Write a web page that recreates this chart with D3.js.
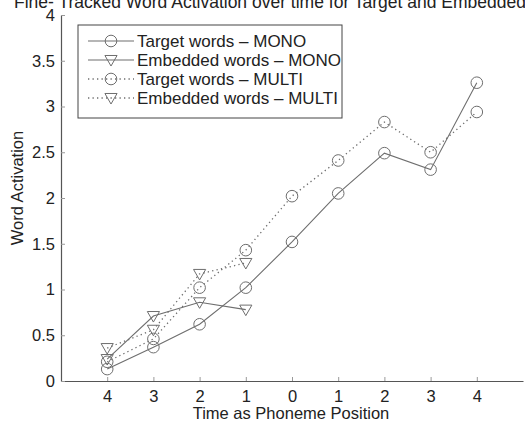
<!DOCTYPE html>
<html>
<head>
<meta charset="utf-8">
<script src="https://cdn.jsdelivr.net/npm/d3@7"></script>
<style>
body { margin: 0; background: #fff; }
svg { font-family: "Liberation Sans", Arial, sans-serif; }
</style>
</head>
<body>
<svg id="chart"></svg>
<script>
// phoneme positions, drawn at slots 1..9
var positions = [1, 2, 3, 4, 5, 6, 7, 8, 9];
var posLabels = ["4", "3", "2", "1", "0", "1", "2", "3", "4"];
var yTicks = [0, 0.5, 1, 1.5, 2, 2.5, 3, 3.5, 4];

// series values
var targetMono = [0.13, 0.37, 0.62, 1.02, 1.52, 2.05, 2.49, 2.31, 3.26];
var embeddedMono = [0.24, 0.71, 0.86, 0.78];
var targetMulti = [0.21, 0.46, 1.02, 1.43, 2.02, 2.41, 2.83, 2.50, 2.94];
var embeddedMulti = [0.36, 0.56, 1.17, 1.29];

var seriesNames = ["Target words \u2013 MONO", "Embedded words \u2013 MONO", "Target words \u2013 MULTI", "Embedded words \u2013 MULTI"];

var W = 525, H = 421;
var margin = { top: 15, right: 2, bottom: 40, left: 61 };
var width = W - margin.left - margin.right;
var height = H - margin.top - margin.bottom;
var fs = 16.5;

var svg = d3.select("#chart").attr("width", W).attr("height", H);

var xscale = d3.scaleLinear().domain([0, 10]).range([0, width]);
var yscale = d3.scaleLinear().domain([0, 4]).range([height, 0]);

var ink = "#555";

// title, clipped at the top like the original
svg.append("text")
	.attr("x", 14)
	.attr("y", 8)
	.attr("font-size", 17.5)
	.attr("fill", "#222")
	.text("Fine- Tracked Word Activation over time for Target and Embedded");

var graph = svg.append("g")
	.attr("transform", "translate(" + margin.left + "," + margin.top + ")");

// axes, ticks point inward
var xaxis = d3.axisBottom(xscale).tickValues(positions)
	.tickFormat(function(d, i) { return posLabels[i]; })
	.tickSizeInner(-4).tickSizeOuter(0).tickPadding(9);
var yaxis = d3.axisLeft(yscale).tickValues(yTicks)
	.tickFormat(d3.format("~g"))
	.tickSizeInner(-4).tickSizeOuter(0).tickPadding(6);

var gx = graph.append("g")
	.attr("transform", "translate(0," + height + ")")
	.call(xaxis);
var gy = graph.append("g").call(yaxis);

[gx, gy].forEach(function(g) {
	g.select(".domain").attr("stroke", ink).attr("stroke-width", 1.2);
	g.selectAll(".tick line").attr("stroke", "#999");
	g.selectAll(".tick text").attr("font-size", fs).attr("fill", "#222");
});

svg.append("text")
	.attr("x", margin.left + width / 2 - 1)
	.attr("y", 419)
	.attr("text-anchor", "middle")
	.attr("font-size", fs)
	.attr("fill", "#222")
	.text("Time as Phoneme Position");

svg.append("text")
	.attr("transform", "translate(23,188) rotate(-90)")
	.attr("text-anchor", "middle")
	.attr("font-size", fs)
	.attr("fill", "#222")
	.text("Word Activation");

var lineCol = "#6e6e6e";
var triangle = d3.symbol().type(d3.symbolTriangle).size(64);

function drawSeries(values, dashed, marker) {
	var pts = values.map(function(v, i) { return [xscale(positions[i]), yscale(v)]; });
	graph.append("path")
		.attr("d", d3.line()(pts))
		.attr("fill", "none")
		.attr("stroke", lineCol)
		.attr("stroke-width", dashed ? 1.3 : 1.1)
		.attr("stroke-dasharray", dashed ? "1.3,3.2" : null);
	drawMarkers(graph, pts, marker);
}

function drawMarkers(g, pts, marker) {
	if (marker === "o") {
		g.selectAll(null).data(pts).enter().append("circle")
			.attr("cx", function(d) { return d[0]; })
			.attr("cy", function(d) { return d[1]; })
			.attr("r", 5.8)
			.attr("fill", "none")
			.attr("stroke", lineCol)
			.attr("stroke-width", 1);
	} else {
		g.selectAll(null).data(pts).enter().append("path")
			.attr("d", triangle)
			.attr("transform", function(d) { return "translate(" + d[0] + "," + (d[1] - 1) + ") rotate(180)"; })
			.attr("fill", "none")
			.attr("stroke", lineCol)
			.attr("stroke-width", 1);
	}
}

drawSeries(targetMono, false, "o");
drawSeries(embeddedMono, false, "v");
drawSeries(targetMulti, true, "o");
drawSeries(embeddedMulti, true, "v");

// legend
var legend = svg.append("g").attr("transform", "translate(78,25)");
legend.append("rect")
	.attr("width", 264).attr("height", 93)
	.attr("fill", "#fff").attr("stroke", "#444").attr("stroke-width", 1);

var styles = [[false, "o"], [false, "v"], [true, "o"], [true, "v"]];
seriesNames.forEach(function(name, i) {
	var y = 16 + i * 19;
	var row = legend.append("g");
	row.append("line")
		.attr("x1", 10).attr("x2", 56).attr("y1", y).attr("y2", y)
		.attr("stroke", lineCol)
		.attr("stroke-width", styles[i][0] ? 1.3 : 1.1)
		.attr("stroke-dasharray", styles[i][0] ? "1.3,3.2" : null);
	drawMarkers(row, [[33, y]], styles[i][1]);
	row.append("text")
		.attr("x", 59).attr("y", y + 6)
		.attr("font-size", 17)
		.attr("fill", "#222")
		.text(name);
});
</script>
</body>
</html>
